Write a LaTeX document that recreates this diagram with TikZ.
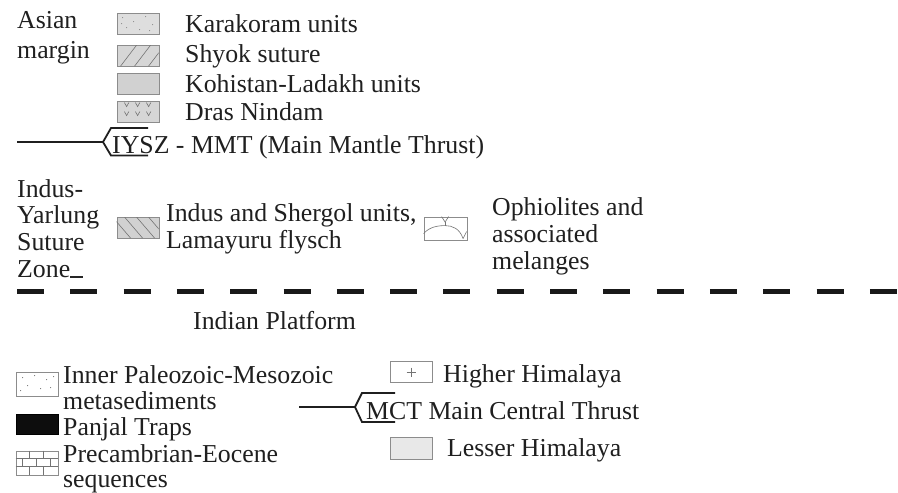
\documentclass[tikz,border=0pt]{standalone}
\usepackage{fontspec}
\setmainfont{Liberation Serif}
\usetikzlibrary{calc}
\begin{document}
\begin{tikzpicture}[x=1pt,y=-1pt,
  lbl/.style={anchor=base west, inner sep=0pt, text=black!88, font=\fontsize{25.8}{27}\selectfont},
  legbox/.style={draw=black!45, line width=0.8pt, minimum width=42pt, minimum height=21pt, inner sep=0pt},
  thrust/.style={line width=1.8pt, draw=black!88},
  pat/.style={draw=black!55, line width=0.6pt},
  ]
\useasboundingbox (0,0) rectangle (898,493);

% ---------- Asian margin ----------
\node[lbl] (asian) at (17,28) {Asian};
\node[lbl] (margin) at (17,58) {margin};

\node[legbox, fill=black!13] (bkar) at (138,23.5) {};
\node[lbl] (tkar) at (185,32) {Karakoram units};
\begin{scope}[shift={(bkar.north west)}]
  \foreach \p in {(6,5),(17,9),(29,4),(36,12),(10,15),(23,17),(33,18),(5,11)}
    \fill[black!45] \p circle (0.6);
\end{scope}

\node[legbox, fill=black!16] (bshy) at (138,56) {};
\node[lbl] (tshy) at (185,62) {Shyok suture};
\begin{scope}[shift={(bshy.north west)}]
  \clip (0,0) rectangle (42,21);
  \foreach \o in {4,18,32}
    \draw[pat] (\o,21) -- (\o+16,0);
\end{scope}

\node[legbox, fill=black!18] (bkoh) at (138,84) {};
\node[lbl] (tkoh) at (185,92) {Kohistan-Ladakh units};

\node[legbox, fill=black!16] (bdra) at (138,111.5) {};
\node[lbl] (tdra) at (185,120) {Dras Nindam};
\begin{scope}[shift={(bdra.north west)}]
  \foreach \x in {10,21,32}
    \draw[pat] (\x-2.2,2) -- (\x,6) -- (\x+2.2,2);
  \foreach \x in {10,21,32}
    \draw[pat] (\x-2.2,11) -- (\x,15) -- (\x+2.2,11);
\end{scope}

% IYSZ thrust
\node[lbl] (tiysz) at (112,153) {IYSZ - MMT (Main Mantle Thrust)};
\coordinate (iyszA) at (17,142);
\coordinate (iyszP) at (103,142);
\draw[thrust] (iyszA) -- (iyszP);
\draw[thrust, line join=miter] (148,128) -- (111,128) -- (iyszP) -- (111,155.5) -- (148,155.5);

% ---------- Indus-Yarlung Suture Zone ----------
\node[lbl] (iys1) at (17,197) {Indus-};
\node[lbl] (iys2) at (17,223) {Yarlung};
\node[lbl] (iys3) at (17,250) {Suture};
\node[lbl] (iys4) at (17,277) {Zone};
\draw[line width=1.2pt, black!85] (iys4.base east) -- ++(13,0);

\node[legbox, fill=black!18] (bind) at (138,228) {};
\begin{scope}[shift={(bind.north west)}]
  \clip (0,0) rectangle (42,21);
  \foreach \o in {-4,8,20,32}
    \draw[pat] (\o,0) -- (\o+18,21);
\end{scope}
\node[lbl] (tind1) at (166,221) {Indus and Shergol units,};
\node[lbl] (tind2) at (166,248) {Lamayuru flysch};

\node[legbox, minimum width=43pt, minimum height=23pt, fill=white] (boph) at (445.5,228.5) {};
\begin{scope}[shift={(boph.north west)}]
  \draw[pat] (0,17) .. controls (6,10) and (15,9) .. (21.5,9);
  \draw[pat] (21.5,9) .. controls (29,9) and (36,12) .. (39.5,22);
  \draw[pat] (21.5,9) -- (21.5,5.5);
  \draw[pat] (21.5,5.5) .. controls (19.5,3.5) .. (18,0);
  \draw[pat] (21.5,5.5) .. controls (23.5,3.5) .. (25,0);
  \draw[pat] (39.5,22) .. controls (40.5,18) .. (43,15);
\end{scope}
\node[lbl] (toph1) at (492,215) {Ophiolites and};
\node[lbl] (toph2) at (492,242) {associated};
\node[lbl] (toph3) at (492,269) {melanges};

% dashed boundary
\coordinate (dashA) at (17,291);
\coordinate (dashB) at (898,291);
\draw[line width=5pt, black!90, dash pattern=on 27pt off 26.3pt] (dashA) -- (dashB);

% ---------- Indian Platform ----------
\node[lbl] (tip) at (193,329) {Indian Platform};

\node[legbox, minimum height=24pt, fill=white] (binn) at (37,384) {};
\begin{scope}[shift={(binn.north west)}]
  \foreach \p in {(7,6),(19,4),(31,8),(38,5),(12,14),(25,17),(35,16),(5,19)}
    \fill[black!55] \p circle (0.6);
\end{scope}
\node[lbl] (tinn1) at (63,383) {Inner Paleozoic-Mesozoic};
\node[lbl] (tinn2) at (63,409) {metasediments};

\node[legbox, minimum height=20pt, fill=black!95, draw=black] (bpan) at (37,424) {};
\node[lbl] (tpan) at (63,435) {Panjal Traps};

\node[legbox, minimum height=24pt, fill=white] (bpre) at (37,463) {};
\begin{scope}[shift={(bpre.north west)}]
  \draw[pat] (0,8) -- (42,8) (0,16) -- (42,16);
  \draw[pat] (14,0) -- (14,8) (28,0) -- (28,8);
  \draw[pat] (7,8) -- (7,16) (21,8) -- (21,16) (35,8) -- (35,16);
  \draw[pat] (14,16) -- (14,24) (28,16) -- (28,24);
\end{scope}
\node[lbl] (tpre1) at (63,462) {Precambrian-Eocene};
\node[lbl] (tpre2) at (63,487) {sequences};

\node[legbox, fill=white] (bhig) at (411,372) {};
\draw[pat] ($(bhig.center)+(-4.5,0)$) -- ($(bhig.center)+(4.5,0)$);
\draw[pat] ($(bhig.center)+(0,-4.5)$) -- ($(bhig.center)+(0,4.5)$);
\node[lbl] (thig) at (443,382) {Higher Himalaya};

\node[lbl] (tmct) at (366,419) {MCT Main Central Thrust};
\coordinate (mctA) at (299,407);
\coordinate (mctP) at (355,407);
\draw[thrust] (mctA) -- (mctP);
\draw[thrust, line join=miter] (395,393) -- (362,393) -- (mctP) -- (362,422) -- (395,422);

\node[legbox, minimum height=22pt, fill=black!9] (bles) at (411,448) {};
\node[lbl] (tles) at (447,456) {Lesser Himalaya};
\end{tikzpicture}
\end{document}
